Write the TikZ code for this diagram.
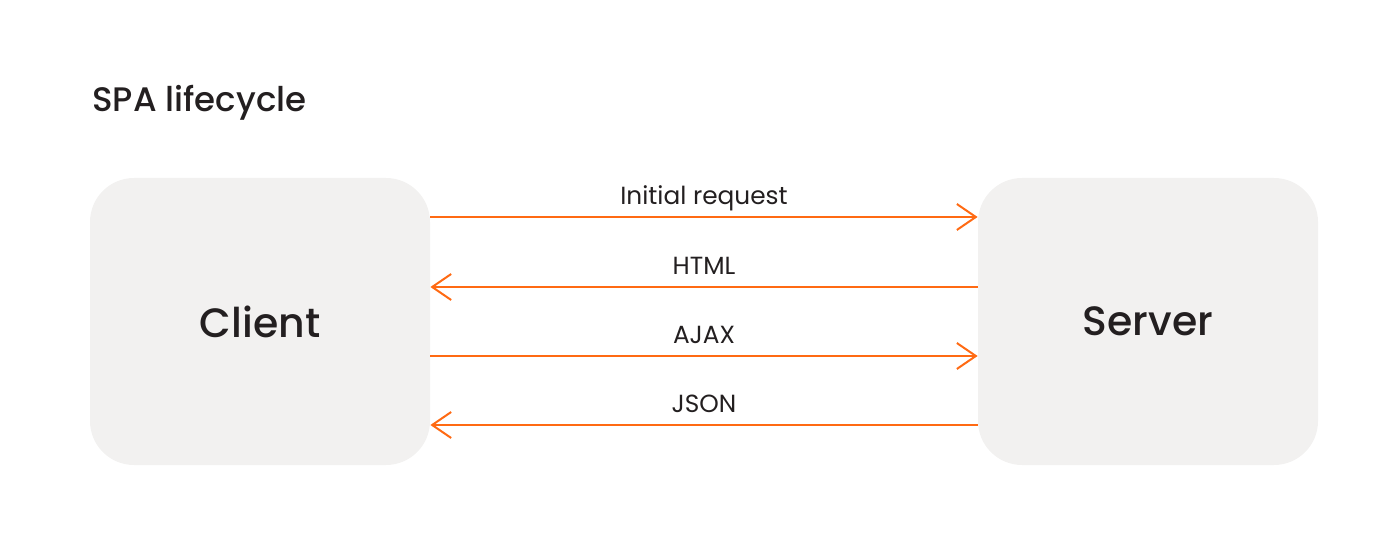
\documentclass[tikz,border=0pt]{standalone}
\usepackage{fontspec}
\setmainfont{Poppins}
\newfontfamily\headfont{Poppins Medium}
\usetikzlibrary{arrows.meta,positioning}

\definecolor{boxgray}{HTML}{F2F1F0}
\definecolor{msgorange}{HTML}{FF6A13}
\definecolor{inkdark}{HTML}{231F20}

\begin{document}
\begin{tikzpicture}[x=0.5pt,y=-0.5pt,node distance=444pt,
    >={Straight Barb[length=9.5pt,width=13pt,line width=1pt]},
    party/.style={fill=boxgray,rounded corners=22pt,minimum width=170pt,minimum height=143.5pt,
                  font=\headfont\fontsize{20.5}{24}\selectfont,text=inkdark},
    msg/.style={->,draw=msgorange,line width=1pt},
    msglabel/.style={font=\fontsize{12.4}{14}\selectfont,text=inkdark,anchor=base,yshift=6pt}]
        \useasboundingbox (0,0) rectangle (1400,560);

        \node[anchor=base west,font=\headfont\fontsize{17}{20}\selectfont,text=inkdark,inner sep=0pt] (title) at (92,112) {SPA lifecycle};

        \node[party]   (client)                   at (260,321.5)  {Client};
        \node[party]   (server)   [right=of client.center,anchor=center] {Server};

        % messages
        \draw[msg] ([yshift=52.25pt]client.east) -- node[msglabel] {Initial request} ([yshift=52.25pt]server.west);
        \draw[msg] ([yshift=17.25pt]server.west) -- node[msglabel] {HTML}            ([yshift=17.25pt]client.east);
        \draw[msg] ([yshift=-17.25pt]client.east) -- node[msglabel] {AJAX}           ([yshift=-17.25pt]server.west);
        \draw[msg] ([yshift=-51.75pt]server.west) -- node[msglabel] {JSON}           ([yshift=-51.75pt]client.east);
\end{tikzpicture}
\end{document}
